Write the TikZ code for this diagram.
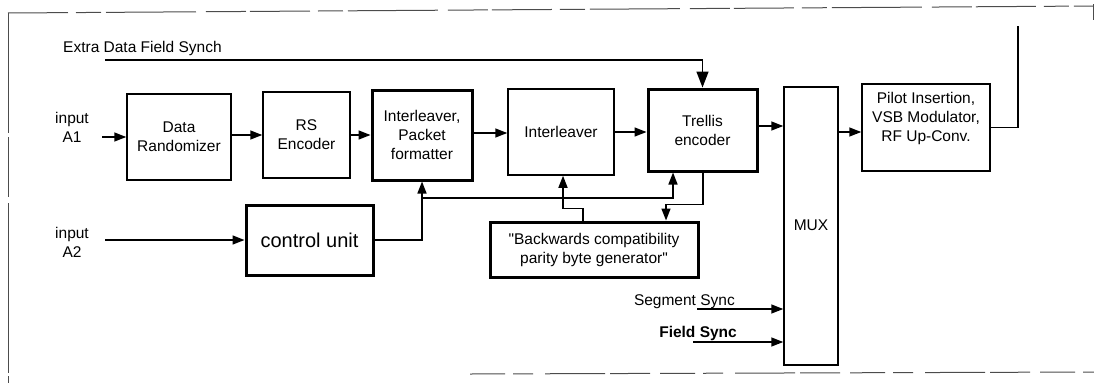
\documentclass[tikz,border=0pt]{standalone}
\usepackage{fontspec}
\setmainfont{Liberation Sans}
\usetikzlibrary{arrows.meta}
\newcommand\blkfont{\fontsize{15.5}{19}\selectfont}
\newcommand\bigfont{\fontsize{20}{24}\selectfont}
\begin{document}
\begin{tikzpicture}[x=1pt,y=-1pt,
  blk/.style={draw, line width=1.5pt, inner sep=0pt, align=center, font=\blkfont},
  thk/.style={blk, line width=3pt},
  wire/.style={line width=1.5pt},
  arr/.style={wire, -{Triangle[length=12pt,width=9pt]}},
  bigarr/.style={wire, -{Triangle[length=16pt,width=12pt]}},
  lbl/.style={inner sep=0pt, align=center, font=\blkfont},
  frame/.style={line width=1pt, black!70}]
\useasboundingbox (0,0) rectangle (1094,383);

% broken outer frame
\draw[frame, dash pattern=on 60pt off 8pt on 25pt off 5pt on 90pt off 10pt on 40pt off 4pt]
  (8,13) -- (1094,6);
\draw[frame, dash pattern=on 120pt off 4pt on 60pt off 6pt on 170pt off 3pt]
  (8,13) -- (8,383);
\draw[frame] (1093,4) -- (1093,20);
\draw[frame, dash pattern=on 35pt off 8pt on 20pt off 12pt on 60pt off 5pt on 40pt off 10pt]
  (470,374) -- (1094,372);

% processing blocks
\node[blk, minimum width=104pt, minimum height=86pt] (dr) at (179,137) {Data\\Randomizer};
\node[blk, minimum width=87pt, minimum height=86pt] (rs) at (306.5,135) {RS\\Encoder};
\node[thk, minimum width=100pt, minimum height=90pt] (fmt) at (422,135) {Interleaver,\\Packet\\formatter};
\node[blk, minimum width=106pt, minimum height=86pt] (int) at (561,132) {Interleaver};
\node[thk, minimum width=109pt, minimum height=82pt] (tr) at (702.5,130) {Trellis\\encoder};
\node[blk, minimum width=54pt, minimum height=278pt] (mux) at (811,226) {};
\node[lbl] (muxt) at (811,225) {MUX};
\node[blk, minimum width=128pt, minimum height=87pt] (pil) at (926,127.5) {};
\node[lbl] (pilt) at (926,118) {Pilot Insertion,\\VSB Modulator,\\RF Up-Conv.};
\node[thk, minimum width=127pt, minimum height=70pt, font=\bigfont] (cu) at (309.5,240) {control unit};
\node[thk, minimum width=208pt, minimum height=55pt] (bc) at (594,249.5)
  {\textquotedbl Backwards compatibility\\parity byte generator\textquotedbl};

% input labels
\node[lbl] (ina1) at (72,127.5) {input\\A1};
\node[lbl] (ina2) at (72,242) {input\\A2};
\node[lbl, anchor=west] (extra) at (63,48) {Extra Data Field Synch};
\node[lbl, anchor=east] (seg) at (735,302) {Segment Sync};
\node[lbl, anchor=east, font=\blkfont\bfseries] (fld) at (737,333) {Field Sync};

% free ends of the connectors
\coordinate (a1) at (102,137);
\coordinate (a2) at (105,240);
\coordinate (ex) at (105,60);
\coordinate (out) at (1018,26);
\coordinate (bus) at (422,198);
\coordinate (ss) at (697,309);
\coordinate (fs) at (693,342);

% main data path
\draw[arr] (a1) -- (a1 -| dr.west);
\draw[arr] ([yshift=2pt]dr.east) -- ([yshift=2pt]dr.east -| rs.west);
\draw[arr] (rs.east) -- (rs.east -| fmt.west);
\draw[arr] ([yshift=2pt]fmt.east) -- ([yshift=2pt]fmt.east -| int.west);
\draw[arr] (int.east) -- (int.east -| tr.west);
\draw[arr] ([yshift=4pt]tr.east) -- ([yshift=4pt]tr.east -| mux.west);
\draw[arr] ([yshift=-4.5pt]pil.west -| mux.east) -- ([yshift=-4.5pt]pil.west);
\draw[wire] (pil.east) -| (out);

% synch and control lines
\draw[bigarr] (ex) -| (tr.north);
\draw[arr] (a2) -- (cu.west);
\draw[arr] (cu.east) -| (fmt.south);
\draw[arr] (bus) -| ([xshift=-29.5pt]tr.south);
\draw[arr] ([xshift=0.5pt]tr.south) -- ++(0,32) -| ([xshift=72pt]bc.north);
\draw[arr] ([xshift=-11pt]bc.north) -- ++(0,-12) -| ([xshift=2pt]int.south);
\draw[arr] (ss) -- (ss -| mux.west);
\draw[arr] (fs) -- (fs -| mux.west);
\end{tikzpicture}
\end{document}
